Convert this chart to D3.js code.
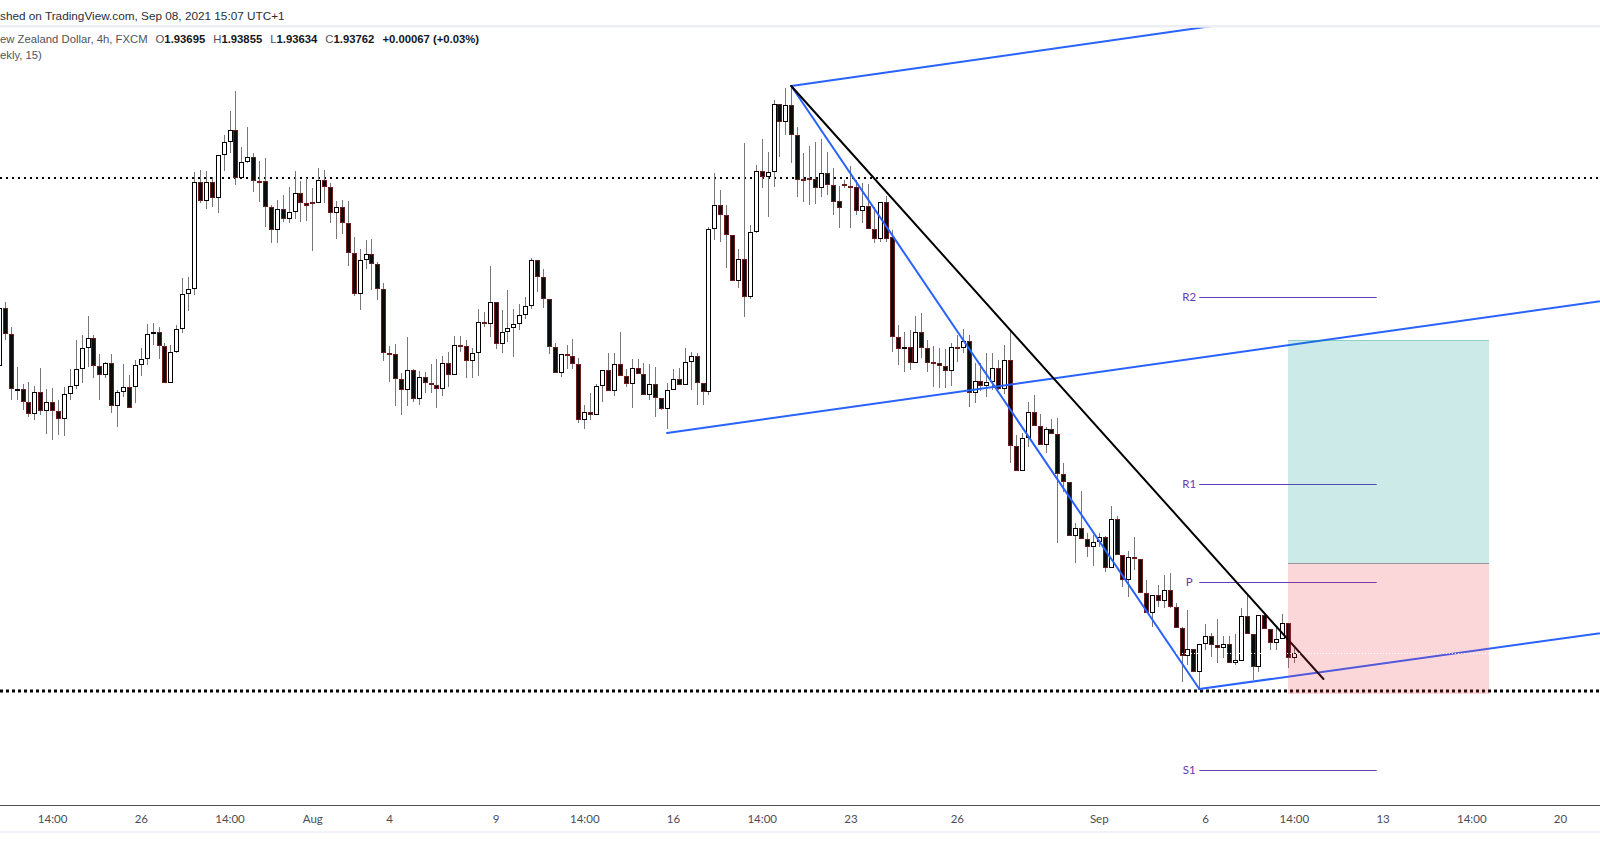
<!DOCTYPE html>
<html>
<head>
<meta charset="utf-8">
<script src="https://cdn.jsdelivr.net/npm/d3@7"></script>
<style>
  body { margin: 0; background: #fff; }
  svg { display: block; }
</style>
</head>
<body>
<div id="chart"></div>
<script>
"use strict";

// GBP/NZD 4h candles (oldest first)
const opens = [
  1.9650,1.9708,1.9682,1.9627,1.9627,1.9614,1.9602,1.9624,1.9605,1.9614,
  1.9605,1.9597,1.9622,1.9630,1.9647,1.9668,1.9678,1.9650,1.9641,1.9653,
  1.9610,1.9624,1.9629,1.9629,1.9651,1.9657,1.9682,1.9684,1.9670,1.9633,
  1.9664,1.9687,1.9722,1.9727,1.9834,1.9815,1.9834,1.9818,1.9861,1.9874,
  1.9886,1.9838,1.9854,1.9859,1.9835,1.9835,1.9809,1.9786,1.9807,1.9797,
  1.9804,1.9823,1.9813,1.9814,1.9813,1.9836,1.9829,1.9803,1.9809,1.9793,
  1.9763,1.9722,1.9756,1.9762,1.9752,1.9727,1.9663,1.9662,1.9637,1.9626,
  1.9646,1.9617,1.9639,1.9633,1.9631,1.9627,1.9653,1.9641,1.9671,1.9670,
  1.9655,1.9663,1.9694,1.9692,1.9714,1.9672,1.9684,1.9688,1.9692,1.9701,
  1.9710,1.9756,1.9739,1.9717,1.9669,1.9643,1.9662,1.9660,1.9652,1.9596,
  1.9604,1.9601,1.9630,1.9646,1.9625,1.9652,1.9640,1.9632,1.9648,1.9642,
  1.9621,1.9632,1.9618,1.9607,1.9626,1.9637,1.9631,1.9654,1.9660,1.9633,
  1.9624,1.9787,1.9811,1.9801,1.9781,1.9735,1.9757,1.9719,1.9784,1.9845,
  1.9839,1.9844,1.9912,1.9894,1.9911,1.9881,1.9837,1.9838,1.9837,1.9828,
  1.9843,1.9831,1.9815,1.9832,1.9830,1.9829,1.9805,1.9810,1.9787,1.9777,
  1.9814,1.9779,1.9679,1.9667,1.9669,1.9653,1.9684,1.9668,1.9654,1.9653,
  1.9650,1.9645,1.9669,1.9668,1.9675,1.9623,1.9635,1.9630,1.9634,1.9648,
  1.9627,1.9656,1.9570,1.9545,1.9578,1.9604,1.9590,1.9571,1.9587,1.9582,
  1.9542,1.9534,1.9480,1.9488,1.9477,1.9469,1.9474,1.9479,1.9448,1.9497,
  1.9461,1.9436,1.9459,1.9457,1.9423,1.9403,1.9421,1.9415,1.9426,1.9409,
  1.9388,1.9360,1.9367,1.9344,1.9372,1.9380,1.9371,1.9368,1.9372,1.9353,
  1.9355,1.9400,1.9382,1.9349,1.9401,1.9387,1.9373,1.9377,1.9393,1.9358
];
const highs = [
  1.9713,1.9714,1.9689,1.9649,1.9632,1.9634,1.9630,1.9648,1.9627,1.9628,
  1.9616,1.9629,1.9647,1.9676,1.9681,1.9700,1.9681,1.9662,1.9654,1.9662,
  1.9626,1.9652,1.9641,1.9656,1.9668,1.9692,1.9693,1.9689,1.9673,1.9671,
  1.9691,1.9738,1.9739,1.9844,1.9846,1.9845,1.9839,1.9861,1.9881,1.9905,
  1.9925,1.9869,1.9889,1.9863,1.9855,1.9858,1.9811,1.9816,1.9821,1.9829,
  1.9845,1.9835,1.9838,1.9828,1.9848,1.9846,1.9833,1.9815,1.9816,1.9815,
  1.9779,1.9767,1.9776,1.9777,1.9754,1.9733,1.9670,1.9672,1.9643,1.9679,
  1.9647,1.9645,1.9644,1.9652,1.9657,1.9660,1.9664,1.9680,1.9680,1.9676,
  1.9668,1.9707,1.9704,1.9750,1.9714,1.9706,1.9726,1.9707,1.9712,1.9719,
  1.9758,1.9756,1.9747,1.9717,1.9673,1.9662,1.9671,1.9677,1.9658,1.9611,
  1.9623,1.9632,1.9646,1.9663,1.9663,1.9684,1.9647,1.9657,1.9657,1.9653,
  1.9652,1.9649,1.9618,1.9633,1.9647,1.9648,1.9668,1.9664,1.9663,1.9633,
  1.9789,1.9843,1.9826,1.9811,1.9781,1.9767,1.9873,1.9791,1.9851,1.9877,
  1.9864,1.9916,1.9912,1.9928,1.9930,1.9889,1.9863,1.9870,1.9874,1.9877,
  1.9864,1.9848,1.9830,1.9836,1.9850,1.9836,1.9833,1.9832,1.9809,1.9814,
  1.9820,1.9786,1.9691,1.9684,1.9686,1.9700,1.9703,1.9676,1.9670,1.9668,
  1.9667,1.9673,1.9681,1.9687,1.9681,1.9653,1.9653,1.9663,1.9663,1.9656,
  1.9671,1.9686,1.9581,1.9583,1.9614,1.9621,1.9602,1.9589,1.9597,1.9598,
  1.9553,1.9534,1.9493,1.9525,1.9483,1.9481,1.9483,1.9480,1.9510,1.9500,
  1.9461,1.9465,1.9479,1.9457,1.9436,1.9421,1.9431,1.9441,1.9443,1.9413,
  1.9389,1.9406,1.9367,1.9372,1.9392,1.9383,1.9397,1.9380,1.9380,1.9382,
  1.9408,1.9422,1.9382,1.9401,1.9404,1.9387,1.9389,1.9402,1.9393,1.9368
];
const lows = [
  1.9643,1.9676,1.9616,1.9616,1.9606,1.9599,1.9596,1.9601,1.9582,1.9576,
  1.9581,1.9580,1.9616,1.9627,1.9633,1.9649,1.9638,1.9616,1.9638,1.9603,
  1.9589,1.9619,1.9608,1.9613,1.9640,1.9651,1.9671,1.9657,1.9633,1.9633,
  1.9663,1.9683,1.9705,1.9721,1.9813,1.9807,1.9809,1.9803,1.9845,1.9863,
  1.9831,1.9838,1.9853,1.9824,1.9814,1.9789,1.9773,1.9773,1.9794,1.9793,
  1.9797,1.9794,1.9795,1.9765,1.9813,1.9813,1.9793,1.9777,1.9782,1.9750,
  1.9720,1.9706,1.9747,1.9726,1.9716,1.9655,1.9634,1.9610,1.9601,1.9610,
  1.9614,1.9611,1.9623,1.9623,1.9608,1.9620,1.9629,1.9641,1.9664,1.9638,
  1.9638,1.9640,1.9689,1.9679,1.9667,1.9663,1.9674,1.9659,1.9686,1.9697,
  1.9707,1.9724,1.9708,1.9662,1.9643,1.9639,1.9647,1.9647,1.9593,1.9587,
  1.9596,1.9601,1.9614,1.9625,1.9620,1.9640,1.9629,1.9608,1.9642,1.9621,
  1.9616,1.9599,1.9606,1.9587,1.9626,1.9631,1.9631,1.9626,1.9611,1.9611,
  1.9621,1.9776,1.9774,1.9748,1.9735,1.9728,1.9699,1.9717,1.9783,1.9828,
  1.9799,1.9829,1.9859,1.9881,1.9853,1.9819,1.9814,1.9811,1.9812,1.9819,
  1.9821,1.9801,1.9788,1.9828,1.9788,1.9801,1.9793,1.9787,1.9773,1.9774,
  1.9774,1.9664,1.9651,1.9644,1.9646,1.9653,1.9658,1.9644,1.9629,1.9628,
  1.9628,1.9630,1.9654,1.9663,1.9609,1.9613,1.9625,1.9619,1.9626,1.9626,
  1.9622,1.9553,1.9545,1.9545,1.9569,1.9590,1.9571,1.9563,1.9582,1.9473,
  1.9524,1.9480,1.9453,1.9477,1.9459,1.9450,1.9469,1.9444,1.9448,1.9461,
  1.9429,1.9419,1.9446,1.9423,1.9403,1.9389,1.9409,1.9408,1.9408,1.9388,
  1.9334,1.9351,1.9344,1.9327,1.9366,1.9359,1.9353,1.9358,1.9353,1.9351,
  1.9355,1.9382,1.9336,1.9344,1.9387,1.9366,1.9366,1.9377,1.9348,1.9353
];
const closes = [
  1.9708,1.9682,1.9627,1.9627,1.9614,1.9602,1.9624,1.9605,1.9614,1.9605,
  1.9597,1.9622,1.9630,1.9647,1.9668,1.9678,1.9650,1.9641,1.9653,1.9610,
  1.9624,1.9629,1.9608,1.9651,1.9657,1.9682,1.9684,1.9670,1.9633,1.9664,
  1.9687,1.9722,1.9727,1.9834,1.9815,1.9834,1.9818,1.9861,1.9874,1.9886,
  1.9838,1.9854,1.9859,1.9835,1.9834,1.9809,1.9786,1.9807,1.9797,1.9804,
  1.9823,1.9813,1.9810,1.9813,1.9836,1.9829,1.9803,1.9809,1.9793,1.9763,
  1.9722,1.9756,1.9762,1.9752,1.9727,1.9663,1.9662,1.9637,1.9626,1.9646,
  1.9617,1.9639,1.9633,1.9631,1.9627,1.9653,1.9641,1.9671,1.9670,1.9655,
  1.9663,1.9694,1.9692,1.9714,1.9672,1.9684,1.9688,1.9692,1.9701,1.9710,
  1.9756,1.9739,1.9717,1.9669,1.9643,1.9662,1.9660,1.9652,1.9596,1.9604,
  1.9601,1.9630,1.9646,1.9625,1.9652,1.9640,1.9632,1.9648,1.9642,1.9621,
  1.9632,1.9618,1.9607,1.9626,1.9637,1.9631,1.9654,1.9660,1.9633,1.9624,
  1.9787,1.9811,1.9801,1.9781,1.9735,1.9757,1.9719,1.9784,1.9845,1.9839,
  1.9844,1.9912,1.9894,1.9911,1.9881,1.9836,1.9836,1.9837,1.9828,1.9843,
  1.9831,1.9814,1.9808,1.9830,1.9829,1.9805,1.9810,1.9787,1.9777,1.9814,
  1.9777,1.9679,1.9667,1.9669,1.9653,1.9684,1.9668,1.9653,1.9653,1.9650,
  1.9645,1.9669,1.9668,1.9675,1.9623,1.9635,1.9630,1.9634,1.9648,1.9627,
  1.9656,1.9570,1.9545,1.9578,1.9604,1.9590,1.9571,1.9587,1.9582,1.9542,
  1.9534,1.9480,1.9488,1.9477,1.9469,1.9474,1.9479,1.9448,1.9497,1.9461,
  1.9436,1.9459,1.9457,1.9423,1.9403,1.9421,1.9415,1.9426,1.9409,1.9388,
  1.9360,1.9367,1.9344,1.9372,1.9380,1.9371,1.9368,1.9372,1.9353,1.9356,
  1.9400,1.9382,1.9349,1.9401,1.9387,1.9373,1.9377,1.9393,1.9358,1.9363
];

// time axis: candle index of each label
const tickIdx = [9, 24, 39, 53, 66, 84, 99, 114, 129, 144, 162, 186, 204, 219, 234, 249, 264];
const tickLabels = ["14:00", "26", "14:00", "Aug", "4", "9", "14:00", "16", "14:00",
  "23", "26", "Sep", "6", "14:00", "13", "14:00", "20"];

// horizontal dotted levels
const upperLevel = 1.9838;
const lowerLevel = 1.9325;

// weekly pivots
const pivotNames = ["R2", "R1", "P", "S1"];
const pivotValues = [1.9719, 1.9532, 1.9434, 1.9246];
const pivotSpan = [203, 233];

// drawn trend lines: [candle index, price] pairs
const channelTop = [[134, 1.9930], [204, 1.9989]];
const channelMid = [[113, 1.9583], [271, 1.9715]];
const channelLow = [[203, 1.9327], [271, 1.9383]];
const fallLine = [[134, 1.9930], [203, 1.9327]];
const resistLine = [[134, 1.9930], [224, 1.9337]];

// long position tool
const posSpan = [218, 252];
const posTarget = 1.9676;
const posEntry = 1.9453;
const posStop = 1.9322;

const W = 1600, H = 868;
const paneTop = 27.5, paneBottom = 805;

const svg = d3.select("#chart").append("svg")
  .attr("width", W)
  .attr("height", H);

const x = d3.scaleLinear().domain([24, 219]).range([140.8, 1293.9]);
const y = d3.scaleLinear().domain([1.9211, 2.0016]).range([805, 0]);
const ry = v => Math.round(y(v)) + 0.5;

svg.append("defs").append("clipPath").attr("id", "pane")
  .append("rect")
  .attr("x", 0).attr("y", paneTop)
  .attr("width", W).attr("height", paneBottom - paneTop);

const g = svg.append("g").attr("clip-path", "url(#pane)");

// dotted levels
g.append("line")
  .attr("x1", 0).attr("x2", W)
  .attr("y1", y(upperLevel)).attr("y2", y(upperLevel))
  .attr("stroke", "#000").attr("stroke-width", 2)
  .attr("stroke-dasharray", "2,4");
g.append("line")
  .attr("x1", 0).attr("x2", W)
  .attr("y1", y(lowerLevel)).attr("y2", y(lowerLevel))
  .attr("stroke", "#000").attr("stroke-width", 3)
  .attr("stroke-dasharray", "3,3");

// pivots
const purple = "#673ab7";
g.selectAll(".pivot")
  .data(pivotValues)
  .join("line")
  .attr("class", "pivot")
  .attr("x1", x(pivotSpan[0])).attr("x2", x(pivotSpan[1]))
  .attr("y1", d => ry(d)).attr("y2", d => ry(d))
  .attr("stroke", purple).attr("stroke-width", 1);
g.selectAll(".pivot-label")
  .data(pivotValues)
  .join("text")
  .attr("class", "pivot-label")
  .attr("x", x(pivotSpan[0]) - 10)
  .attr("y", d => y(d))
  .attr("dy", "0.36em")
  .attr("text-anchor", "middle")
  .attr("font-family", "Lato, 'Open Sans', sans-serif")
  .attr("font-size", 11.5)
  .attr("fill", purple)
  .text((d, i) => pivotNames[i]);

// candles
const idx = d3.range(opens.length);
g.selectAll(".wick")
  .data(idx)
  .join("line")
  .attr("class", "wick")
  .attr("x1", i => Math.round(x(i)) + 0.5)
  .attr("x2", i => Math.round(x(i)) + 0.5)
  .attr("y1", i => y(highs[i]))
  .attr("y2", i => y(lows[i]))
  .attr("stroke", "#777").attr("stroke-width", 1);

g.selectAll(".body")
  .data(idx)
  .join("rect")
  .attr("class", "body")
  .attr("x", i => Math.round(x(i)) - 1.5)
  .attr("width", 4)
  .attr("y", i => Math.round(y(Math.max(opens[i], closes[i]))) + 0.5)
  .attr("height", i => Math.max(1, Math.round(Math.abs(y(opens[i]) - y(closes[i]))) - 1))
  .attr("fill", i => closes[i] >= opens[i] ? "#fff" : "#0b0b0b")
  .attr("stroke", i => closes[i] >= opens[i] ? "#000" : "#6b1c1c")
  .attr("stroke-width", 1);

// trend lines
function extend(pts, ray) {
  if (!ray) return pts;
  const [a, b] = pts;
  const k = (b[1] - a[1]) / (b[0] - a[0]);
  const far = 290;
  return [a, [far, a[1] + k * (far - a[0])]];
}
const lineGen = d3.line().x(d => x(d[0])).y(d => y(d[1]));
const blue = "#2962ff";
const drawings = [
  { pts: extend(channelTop, true), color: blue },
  { pts: extend(channelMid, true), color: blue },
  { pts: extend(channelLow, true), color: blue },
  { pts: fallLine, color: blue },
  { pts: resistLine, color: "#000" }
];
g.selectAll(".trend")
  .data(drawings)
  .join("path")
  .attr("class", "trend")
  .attr("d", d => lineGen(d.pts))
  .attr("fill", "none")
  .attr("stroke", d => d.color)
  .attr("stroke-width", 2)
  .attr("stroke-linecap", "round");

// long position box
const bx0 = x(posSpan[0]), bx1 = x(posSpan[1]);
g.append("rect")
  .attr("x", bx0).attr("width", bx1 - bx0)
  .attr("y", y(posTarget)).attr("height", y(posEntry) - y(posTarget))
  .attr("fill", "rgba(0,150,136,0.2)");
g.append("rect")
  .attr("x", bx0).attr("width", bx1 - bx0)
  .attr("y", y(posEntry)).attr("height", y(posStop) - y(posEntry))
  .attr("fill", "rgba(242,54,69,0.2)");
g.append("line")
  .attr("x1", bx0).attr("x2", bx1)
  .attr("y1", ry(posTarget)).attr("y2", ry(posTarget))
  .attr("stroke", "rgba(0,150,136,0.3)");
g.append("line")
  .attr("x1", bx0).attr("x2", bx1)
  .attr("y1", ry(posEntry)).attr("y2", ry(posEntry))
  .attr("stroke", "#9598a1");

// last price line
const lastClose = closes[closes.length - 1];
g.append("line")
  .attr("x1", 0).attr("x2", W)
  .attr("y1", ry(lastClose)).attr("y2", ry(lastClose))
  .attr("stroke", "#fff").attr("stroke-width", 1)
  .attr("stroke-dasharray", "1,2");

// time axis
svg.append("line")
  .attr("x1", 0).attr("x2", W)
  .attr("y1", paneBottom + 0.5).attr("y2", paneBottom + 0.5)
  .attr("stroke", "#50535e");
svg.append("rect")
  .attr("x", 0).attr("y", 831).attr("width", W).attr("height", 2)
  .attr("fill", "#f0f3fa");

const axis = svg.append("g")
  .attr("transform", `translate(0,${paneBottom})`)
  .call(d3.axisBottom(x)
    .tickValues(tickIdx)
    .tickFormat((d, i) => tickLabels[i])
    .tickSize(0));
axis.select(".domain").remove();
axis.selectAll("text")
  .attr("y", 14.3)
  .attr("dy", "0.35em")
  .attr("font-family", "Lato, 'Open Sans', sans-serif")
  .attr("font-size", 11.5)
  .attr("fill", "#4a4d57");

// header
svg.append("rect")
  .attr("x", 0).attr("y", 25).attr("width", W).attr("height", 2.5)
  .attr("fill", "#eceef2");

const headFont = "'Liberation Sans', Arial, sans-serif";
const title = svg.append("text")
  .attr("x", 0).attr("y", 19.5)
  .attr("font-family", headFont)
  .attr("font-size", 12)
  .attr("fill", "#2a2e39")
  .text("shed on TradingView.com, Sep 08, 2021 15:07 UTC+1");

const legend = svg.append("text")
  .attr("x", 0).attr("y", 43)
  .attr("font-family", headFont)
  .attr("font-size", 12);
const grey = "#50535e", dark = "#131722";
const parts = [
  ["ew Zealand Dollar, 4h, FXCM", grey, 0, "normal"],
  ["O", grey, 8, "normal"], ["1.93695", dark, 0, "bold"],
  ["H", grey, 8, "normal"], ["1.93855", dark, 0, "bold"],
  ["L", grey, 8, "normal"], ["1.93634", dark, 0, "bold"],
  ["C", grey, 8, "normal"], ["1.93762", dark, 0, "bold"],
  ["+0.00067 (+0.03%)", dark, 8, "bold"]
];
parts.forEach(p => {
  legend.append("tspan")
    .attr("fill", p[1])
    .attr("dx", p[2])
    .attr("font-weight", p[3])
    .text(p[0]);
});

const study = svg.append("text")
  .attr("x", 0).attr("y", 59)
  .attr("font-family", headFont)
  .attr("font-size", 12)
  .attr("fill", grey)
  .text("ekly, 15)");

// fit header widths to what the picture shows
function fit(sel, target) {
  const w = sel.node().getBBox().width;
  const fs = 12 * target / w;
  sel.attr("font-size", fs.toFixed(2));
  return fs;
}
fit(title, 285);
const lfs = fit(legend, 477);
study.attr("font-size", lfs.toFixed(2));
</script>
</body>
</html>
